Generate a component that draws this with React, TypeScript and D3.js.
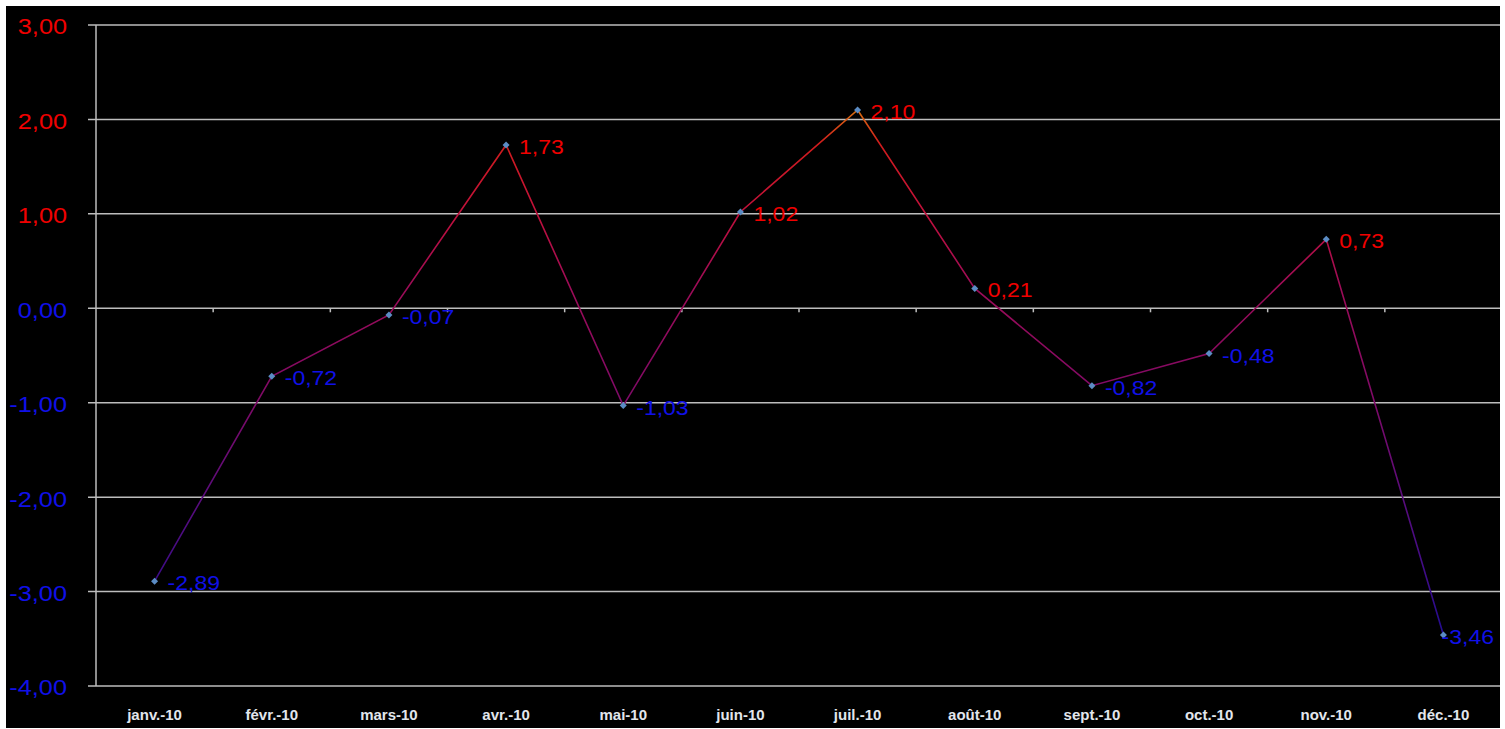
import { useEffect } from "react";
import * as d3 from "d3";

const months = [
  "janv.-10", "févr.-10", "mars-10", "avr.-10", "mai-10", "juin-10",
  "juil.-10", "août-10", "sept.-10", "oct.-10", "nov.-10", "déc.-10",
];
const values = [-2.89, -0.72, -0.07, 1.73, -1.03, 1.02, 2.1, 0.21, -0.82, -0.48, 0.73, -3.46];
const yTicks = [3, 2, 1, 0, -1, -2, -3, -4];

// colour of the line by value (vertical gradient)
const lineStops: [number, string][] = [
  [2.1, "#d87010"],
  [1.75, "#d01c1c"],
  [1.0, "#c0103c"],
  [0.2, "#9c0c58"],
  [-0.5, "#8a0a60"],
  [-1.0, "#7e0a68"],
  [-2.0, "#5a0c7c"],
  [-2.9, "#3c0c88"],
  [-3.46, "#220c92"],
];

const W = 1505;
const H = 729;
const fmt = (v: number) => v.toFixed(2).replace(".", ",");
const posColor = "#f00000";
const negColor = "#1010e8";
const font = "Liberation Sans, Arial, sans-serif";

export default function App() {
  useEffect(() => {
    document.body.style.margin = "0";
  }, []);

  const left = 96;
  const right = 1502;
  const y = d3.scaleLinear().domain([-4, 3]).range([686, 25]);
  const x = d3.scaleBand<string>().domain(months).range([left, right]);
  const cx = (m: string) => (x(m) ?? 0) + x.bandwidth() / 2;

  const line = d3
    .line<number>()
    .x((_, i) => cx(months[i]))
    .y((d) => y(d));

  const y0 = y(2.1);
  const y1 = y(-3.46);
  const sx = 1.15;
  const labelSize = 20;
  const labelMaxX = 1494;

  return (
    <svg width={W} height={H} style={{ display: "block", background: "#fff" }}>
      <defs>
        <linearGradient id="lineGrad" gradientUnits="userSpaceOnUse" x1={0} x2={0} y1={y0} y2={y1}>
          {lineStops.map(([v, c]) => (
            <stop key={v} offset={(y(v) - y0) / (y1 - y0)} stopColor={c} />
          ))}
        </linearGradient>
        <clipPath id="frame">
          <rect x={6} y={6} width={1494} height={722} />
        </clipPath>
      </defs>
      <rect x={6} y={6} width={1494} height={722} fill="#000" />
      <g clipPath="url(#frame)">
        {yTicks.map((t) => (
          <line key={t} x1={88} x2={right} y1={y(t)} y2={y(t)} stroke="#bdbdbd" strokeWidth={1.5} />
        ))}
        <line x1={left} x2={left} y1={y(3)} y2={y(-4)} stroke="#bdbdbd" strokeWidth={1.5} />
        {/* category ticks hanging from the zero line */}
        {months.slice(1).map((m) => (
          <line key={m} x1={x(m)} x2={x(m)} y1={y(0)} y2={y(0) + 4} stroke="#bdbdbd" strokeWidth={1.5} />
        ))}
        {yTicks.map((t) => (
          <text
            key={t}
            transform={`translate(67,${y(t) + 2}) scale(${sx},1)`}
            textAnchor="end"
            dominantBaseline="central"
            fontFamily={font}
            fontSize={22}
            fill={t > 0 ? posColor : negColor}
          >
            {fmt(t)}
          </text>
        ))}
        {months.map((m) => (
          <text
            key={m}
            x={cx(m)}
            y={714}
            textAnchor="middle"
            dominantBaseline="central"
            fontFamily={font}
            fontWeight="bold"
            fontSize={15}
            fill="#e2e6ec"
          >
            {m}
          </text>
        ))}
        <path d={line(values) ?? ""} fill="none" stroke="url(#lineGrad)" strokeWidth={1.6} />
        {values.map((v, i) => {
          const px = cx(months[i]);
          const py = y(v);
          const label = fmt(v);
          const estW = label.length * 0.5 * labelSize * sx;
          const fits = px + 13 + estW <= labelMaxX;
          const tx = fits ? px + 13 : labelMaxX;
          return (
            <g key={i}>
              <path
                d={`M${px},${py - 3.5}L${px + 3.5},${py}L${px},${py + 3.5}L${px - 3.5},${py}Z`}
                fill="#5b8cc4"
              />
              <text
                transform={`translate(${tx},${py + 2}) scale(${sx},1)`}
                textAnchor={fits ? "start" : "end"}
                dominantBaseline="central"
                fontFamily={font}
                fontSize={labelSize}
                fill={v > 0 ? posColor : negColor}
              >
                {label}
              </text>
            </g>
          );
        })}
      </g>
    </svg>
  );
}
